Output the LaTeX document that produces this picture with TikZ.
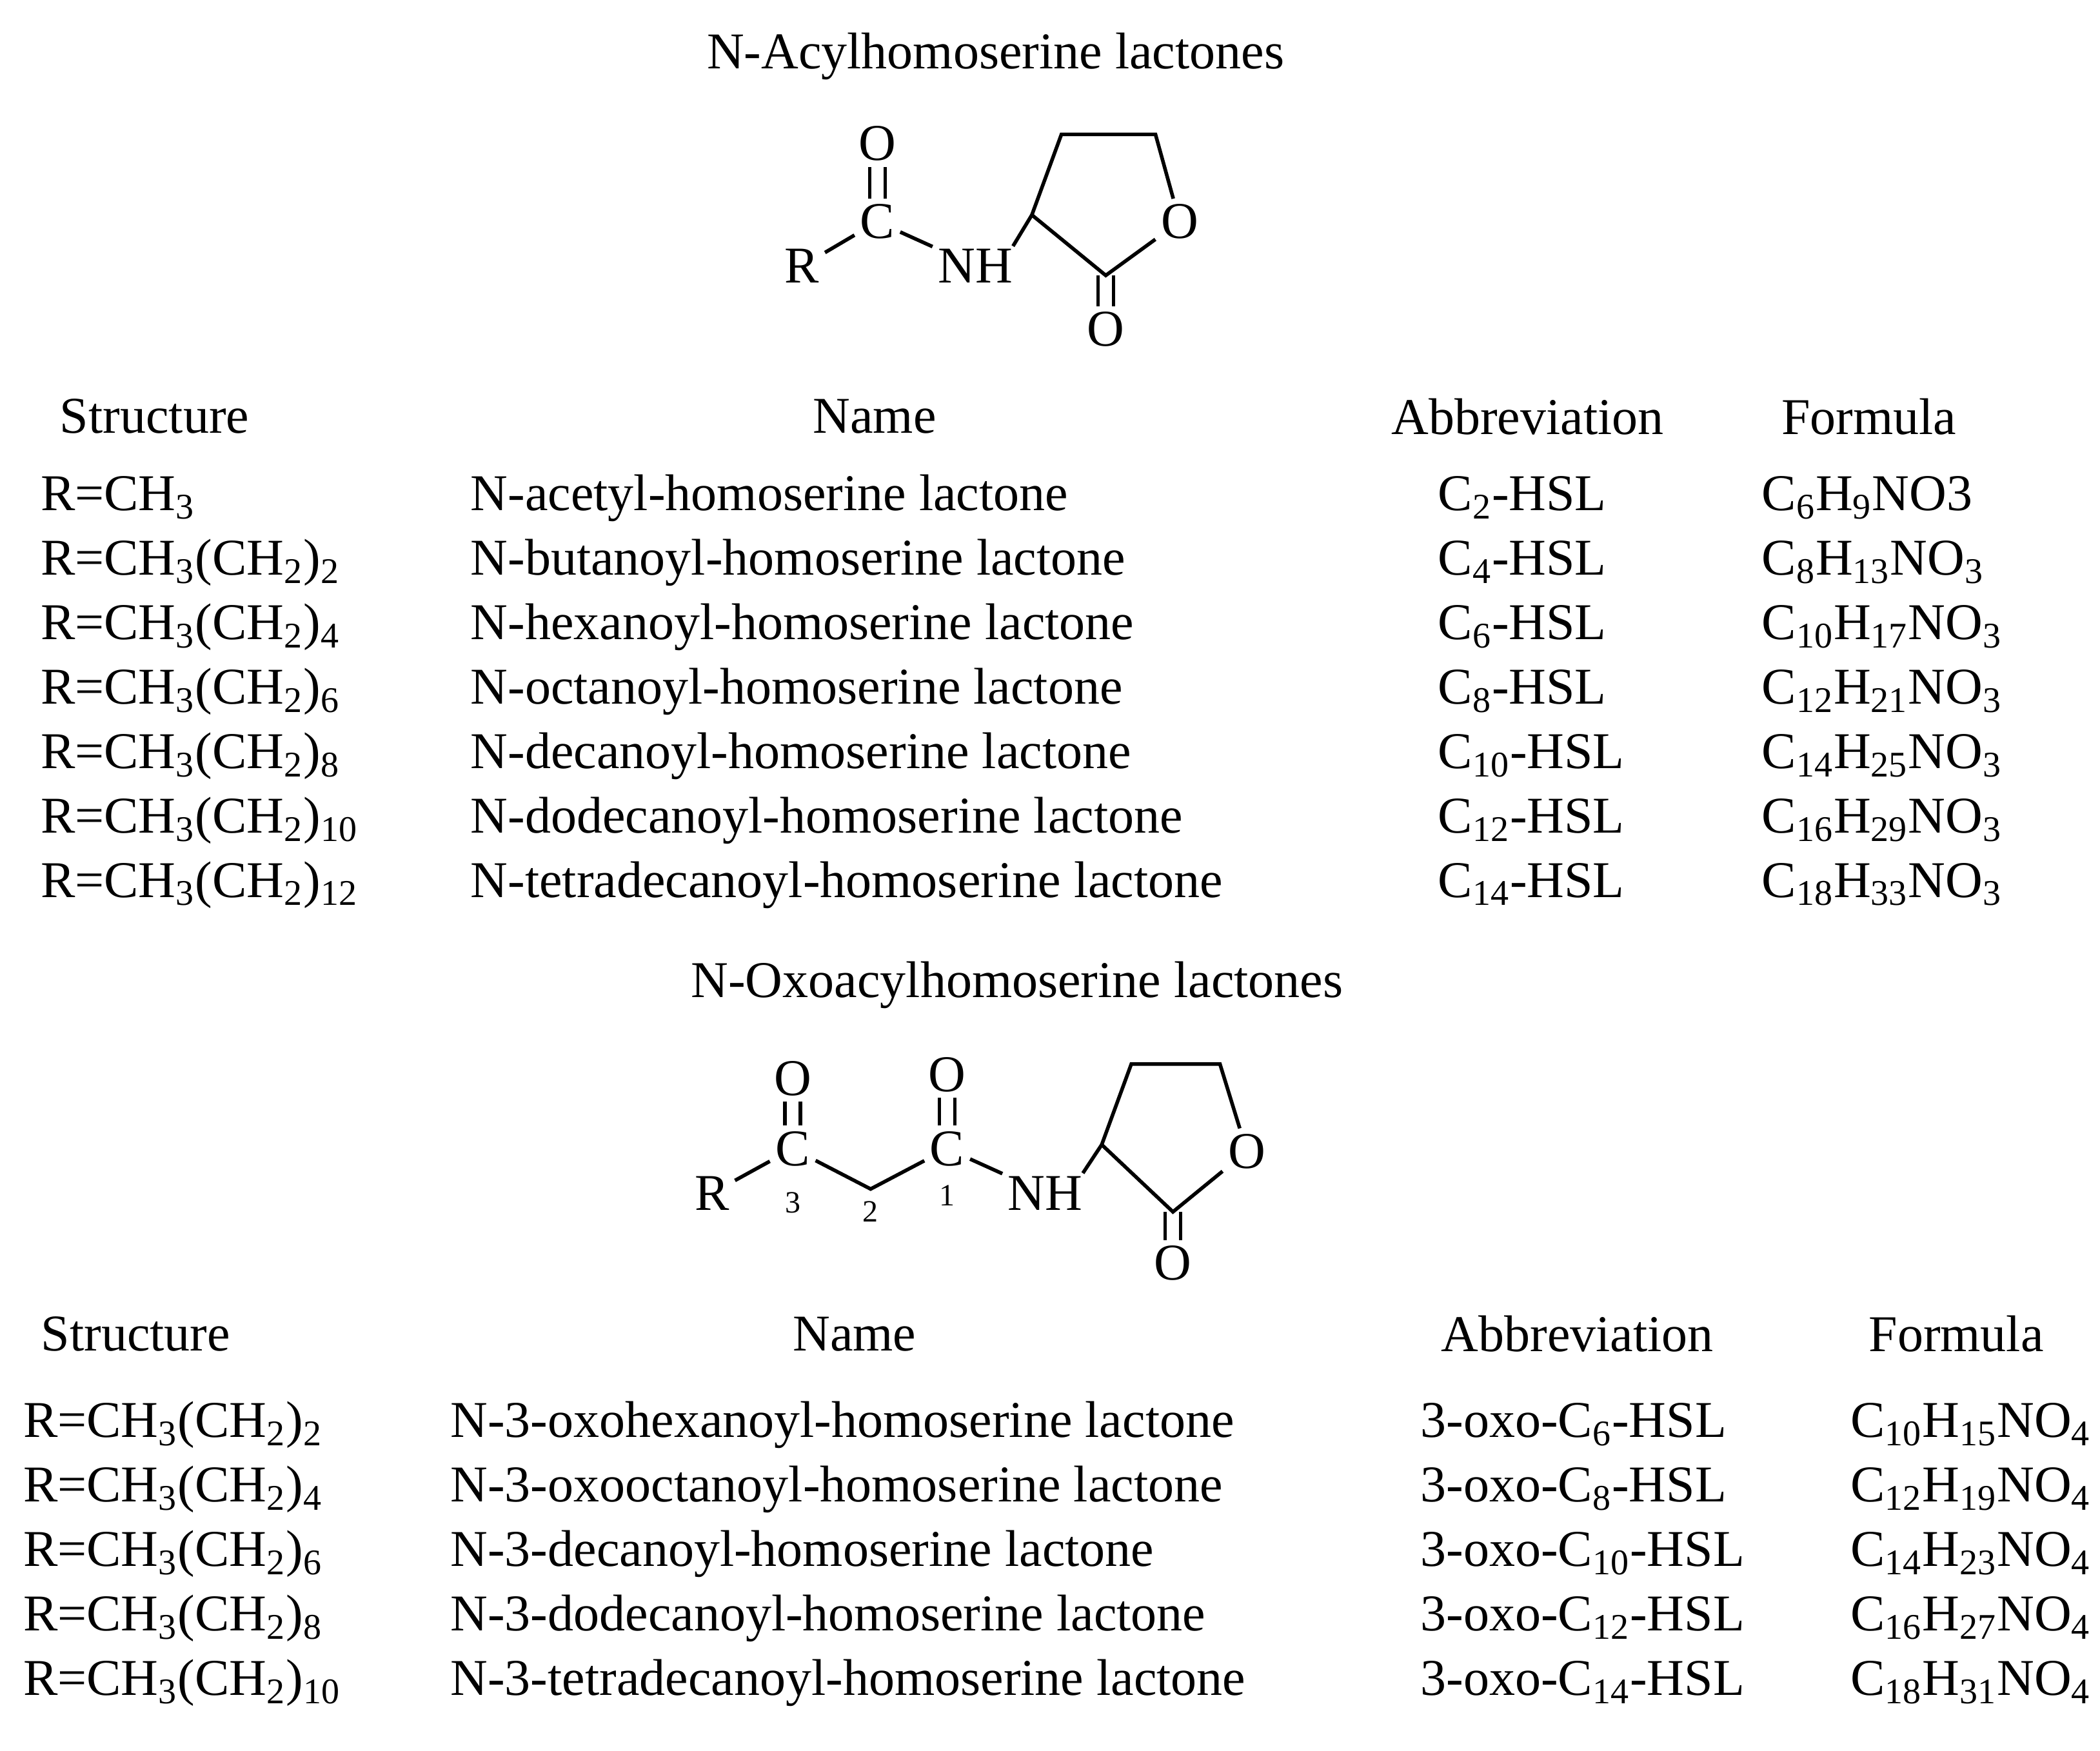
\documentclass[tikz,border=0pt]{standalone}
\usepackage{fontspec}
\setmainfont{Liberation Serif}
\begin{document}
\begin{tikzpicture}[x=0.5208pt,y=-0.5208pt,
  every node/.style={font=\fontsize{20}{24}\selectfont,inner sep=1pt},
  t/.style={anchor=west},
  h/.style={anchor=center},
  a/.style={inner sep=2pt},
  sm/.style={font=\fontsize{12}{14}\selectfont},
  b/.style={line width=1.4pt}]
\useasboundingbox (0,0) rectangle (1563,1303);
% ---- top structure
\node (t1) at (741,42) {N-Acylhomoserine lactones};
\node[a] (R1) at (597,198) {R};
\node[a] (C1) at (653,165) {C};
\node[a] (O1) at (653,107) {O};
\node[a] (N1) at (726,198) {NH};
\coordinate (r1) at (768,160);
\coordinate (r2) at (790,100);
\coordinate (r3) at (860,100);
\node[a] (Or1) at (878,165) {O};
\coordinate (r5) at (823,205);
\node[a] (Ob1) at (823,245) {O};
\draw[b] (R1) -- (C1);
\draw[b] (C1) -- (N1);
\draw[b] ([xshift=-3]C1.north) -- ([xshift=-3]O1.south);
\draw[b] ([xshift=3]C1.north) -- ([xshift=3]O1.south);
\draw[b] (N1.north east) ++(-4,2) -- (r1);
\draw[b] (r1) -- (r2) -- (r3) -- (Or1);
\draw[b] (Or1) -- (r5) -- (r1);
\draw[b] ([xshift=-3]r5) -- ([xshift=-3]Ob1.north);
\draw[b] ([xshift=3]r5) -- ([xshift=3]Ob1.north);
% ---- top table
\node[h] (hs1) at (115,310) {Structure};
\node[h] (hn1) at (651,310) {Name};
\node[h] (ha1) at (1137,310) {Abbreviation};
\node[h] (hf1) at (1391,310) {Formula};
\foreach \i/\s/\n/\ab/\f in {
 0/R=CH\textsubscript{3}/N-acetyl-homoserine lactone/C\textsubscript{2}-HSL/C\textsubscript{6}H\textsubscript{9}NO3,
 1/R=CH\textsubscript{3}(CH\textsubscript{2})\textsubscript{2}/N-butanoyl-homoserine lactone/C\textsubscript{4}-HSL/C\textsubscript{8}H\textsubscript{13}NO\textsubscript{3},
 2/R=CH\textsubscript{3}(CH\textsubscript{2})\textsubscript{4}/N-hexanoyl-homoserine lactone/C\textsubscript{6}-HSL/C\textsubscript{10}H\textsubscript{17}NO\textsubscript{3},
 3/R=CH\textsubscript{3}(CH\textsubscript{2})\textsubscript{6}/N-octanoyl-homoserine lactone/C\textsubscript{8}-HSL/C\textsubscript{12}H\textsubscript{21}NO\textsubscript{3},
 4/R=CH\textsubscript{3}(CH\textsubscript{2})\textsubscript{8}/N-decanoyl-homoserine lactone/C\textsubscript{10}-HSL/C\textsubscript{14}H\textsubscript{25}NO\textsubscript{3},
 5/R=CH\textsubscript{3}(CH\textsubscript{2})\textsubscript{10}/N-dodecanoyl-homoserine lactone/C\textsubscript{12}-HSL/C\textsubscript{16}H\textsubscript{29}NO\textsubscript{3},
 6/R=CH\textsubscript{3}(CH\textsubscript{2})\textsubscript{12}/N-tetradecanoyl-homoserine lactone/C\textsubscript{14}-HSL/C\textsubscript{18}H\textsubscript{33}NO\textsubscript{3}}{
 \node[t,anchor=base west] (s1\i) at (28,380+48*\i) {\s};
 \node[t,anchor=base west] (n1\i) at (348,380+48*\i) {\n};
 \node[t,anchor=base west] (a1\i) at (1068,380+48*\i) {\ab};
 \node[t,anchor=base west] (f1\i) at (1309,380+48*\i) {\f};
}
% ---- bottom structure
\node (t2) at (757,733) {N-Oxoacylhomoserine lactones};
\node[a] (R2) at (530,888) {R};
\node[a] (C3) at (590,855) {C};
\node[a] (O3) at (590,803) {O};
\node[sm] (l3) at (590,895) {3};
\coordinate (v2) at (648,885);
\node[sm] (l2) at (648,902) {2};
\node[a] (Cc1) at (705,855) {C};
\node[a] (Oc1) at (705,800) {O};
\node[sm] (l1) at (705,890) {1};
\node[a] (N2) at (778,888) {NH};
\coordinate (q1) at (820,852);
\coordinate (q2) at (842,792);
\coordinate (q3) at (908,792);
\node[a] (Or2) at (928,857) {O};
\coordinate (q5) at (873,902);
\node[a] (Ob2) at (873,940) {O};
\draw[b] (R2) -- (C3);
\draw[b] (C3) -- (v2) -- (Cc1);
\draw[b] (Cc1) -- (N2);
\draw[b] ([xshift=-3]C3.north) -- ([xshift=-3]O3.south);
\draw[b] ([xshift=3]C3.north) -- ([xshift=3]O3.south);
\draw[b] ([xshift=-3]Cc1.north) -- ([xshift=-3]Oc1.south);
\draw[b] ([xshift=3]Cc1.north) -- ([xshift=3]Oc1.south);
\draw[b] (N2.north east) ++(-4,2) -- (q1);
\draw[b] (q1) -- (q2) -- (q3) -- (Or2);
\draw[b] (Or2) -- (q5) -- (q1);
\draw[b] ([xshift=-3]q5) -- ([xshift=-3]Ob2.north);
\draw[b] ([xshift=3]q5) -- ([xshift=3]Ob2.north);
% ---- bottom table
\node[h] (hs2) at (101,993) {Structure};
\node[h] (hn2) at (636,993) {Name};
\node[h] (ha2) at (1174,993) {Abbreviation};
\node[h] (hf2) at (1456,993) {Formula};
\foreach \i/\s/\n/\ab/\f in {
 0/R=CH\textsubscript{3}(CH\textsubscript{2})\textsubscript{2}/N-3-oxohexanoyl-homoserine lactone/3-oxo-C\textsubscript{6}-HSL/C\textsubscript{10}H\textsubscript{15}NO\textsubscript{4},
 1/R=CH\textsubscript{3}(CH\textsubscript{2})\textsubscript{4}/N-3-oxooctanoyl-homoserine lactone/3-oxo-C\textsubscript{8}-HSL/C\textsubscript{12}H\textsubscript{19}NO\textsubscript{4},
 2/R=CH\textsubscript{3}(CH\textsubscript{2})\textsubscript{6}/N-3-decanoyl-homoserine lactone/3-oxo-C\textsubscript{10}-HSL/C\textsubscript{14}H\textsubscript{23}NO\textsubscript{4},
 3/R=CH\textsubscript{3}(CH\textsubscript{2})\textsubscript{8}/N-3-dodecanoyl-homoserine lactone/3-oxo-C\textsubscript{12}-HSL/C\textsubscript{16}H\textsubscript{27}NO\textsubscript{4},
 4/R=CH\textsubscript{3}(CH\textsubscript{2})\textsubscript{10}/N-3-tetradecanoyl-homoserine lactone/3-oxo-C\textsubscript{14}-HSL/C\textsubscript{18}H\textsubscript{31}NO\textsubscript{4}}{
 \node[t,anchor=base west] (s2\i) at (15,1070+48*\i) {\s};
 \node[t,anchor=base west] (n2\i) at (333,1070+48*\i) {\n};
 \node[t,anchor=base west] (a2\i) at (1055,1070+48*\i) {\ab};
 \node[t,anchor=base west] (f2\i) at (1375,1070+48*\i) {\f};
}
\end{tikzpicture}
\end{document}
